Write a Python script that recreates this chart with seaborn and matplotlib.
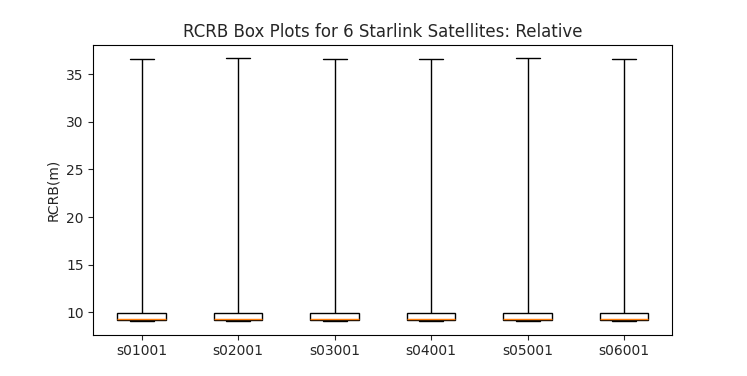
import numpy as np
import pandas as pd
import matplotlib
matplotlib.use("Agg")
import matplotlib.pyplot as plt
import seaborn as sns

# --- Data: five-number summary per satellite (min, Q1, median, Q3, max) ---
satellites = ['s01001', 's02001', 's03001', 's04001', 's05001', 's06001']
rcrb_min = [9.05, 9.05, 9.05, 9.05, 9.05, 9.05]
rcrb_q1 = [9.16, 9.16, 9.16, 9.16, 9.16, 9.16]
rcrb_median = [9.27, 9.27, 9.27, 9.27, 9.27, 9.27]
rcrb_q3 = [9.93, 9.93, 9.93, 9.93, 9.93, 9.93]
rcrb_max = [36.55, 36.65, 36.55, 36.6, 36.65, 36.55]

rows = []
for i, sat in enumerate(satellites):
    for v in [rcrb_min[i], rcrb_q1[i], rcrb_median[i], rcrb_q3[i], rcrb_max[i]]:
        rows.append({'satellite': sat, 'rcrb': v})
df = pd.DataFrame(rows)

sns.set_style("white")
plt.rcParams['font.family'] = ['DejaVu Sans']

fig, ax = plt.subplots(figsize=(7.47, 3.76), dpi=100)
sns.boxplot(data=df, x='satellite', y='rcrb', order=satellites, whis=(0, 100),
            width=0.5, color='white', linecolor='black', linewidth=1.0,
            showfliers=False, saturation=1, ax=ax,
            medianprops={'color': '#ff7f0e', 'linewidth': 1.0})

ax.set_xlim(-0.5, 5.5)
ax.set_title('RCRB Box Plots for 6 Starlink Satellites: Relative', fontsize=12)
ax.set_xlabel('')
ax.set_ylabel('RCRB(m)', fontsize=10)
ax.set_yticks([10, 15, 20, 25, 30, 35])
ax.tick_params(axis='both', labelsize=10, length=3.5, width=0.8, direction='out',
               bottom=True, left=True)
for spine in ax.spines.values():
    spine.set_color('black')
    spine.set_linewidth(0.8)

fig.subplots_adjust(left=0.125, right=0.9, top=0.88, bottom=0.11)
fig.savefig('out.png', dpi=100)
plt.close(fig)
